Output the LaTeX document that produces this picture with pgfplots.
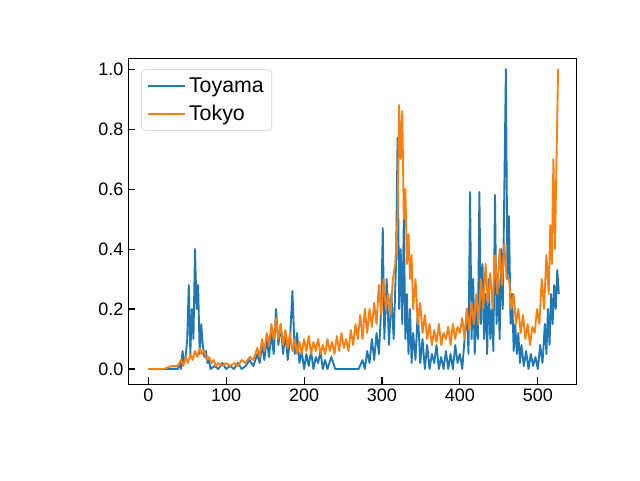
\documentclass[border=0pt]{standalone}
\usepackage{pgfplots}
\pgfplotsset{compat=1.18}
\usepackage{fontspec}
\setmainfont{Liberation Sans}
\definecolor{mblue}{HTML}{1F77B4}
\definecolor{morange}{HTML}{FF7F0E}
\begin{document}
\begin{tikzpicture}
\path (0,0) rectangle (480pt,360pt);
\begin{axis}[at={(96pt,72pt)},anchor=south west,scale only axis,width=336pt,height=244.5pt,
xmin=-26,xmax=549,ymin=-0.05,ymax=1.037,
xtick={0,100,200,300,400,500},ytick={0,0.2,0.4,0.6,0.8,1.0},
yticklabel style={/pgf/number format/.cd,fixed,fixed zerofill,precision=1},
/pgf/number format/assume math mode=true,
tick style={black,thick},major tick length=5pt,tick align=inside,
xtick pos=bottom,ytick pos=left,
ticklabel style={font=\fontsize{13.5}{16}\selectfont},
legend style={at={(0.03,0.965)},anchor=north west,font=\fontsize{16}{19}\selectfont,draw=black!20,rounded corners=3pt,inner sep=4pt,row sep=4pt,
  legend image code/.code={\draw[#1,line width=1.5pt] (0pt,0pt) -- (28pt,0pt);}},
legend cell align=left,
every axis plot/.append style={line width=1.4pt,line join=round}]
\addplot[mblue] coordinates {
(0,0)(10,0)(20,0)(30,0)(38,0)(40,0.02)(42,0)(44,0.06)(46,0.02)(48,0.04)(50,0.1)(52,0.28)(54,0.05)(56,0.2)(58,0.1)(60,0.4)(62,0.2)(64,0.28)(66,0.05)(68,0.15)(70,0.08)(72,0.04)(74,0.06)(76,0.02)(78,0.03)(80,0)(85,0.01)(90,0)(95,0.02)(100,0)(105,0.01)(110,0)(115,0.02)(120,0)(125,0.01)(130,0.03)(135,0.01)(140,0.05)(143,0.02)(146,0.08)(149,0.03)(152,0.1)(155,0.04)(158,0.12)(161,0.05)(164,0.2)(167,0.08)(170,0.15)(173,0.05)(176,0.12)(179,0.03)(182,0.1)(185,0.26)(188,0.05)(191,0.12)(194,0.02)(197,0.06)(200,0)(203,0.05)(206,0.01)(209,0.06)(212,0)(215,0.04)(218,0.02)(221,0.06)(224,0)(227,0.03)(230,0)(235,0.04)(240,0)(250,0)(260,0)(270,0)(275,0.03)(278,0)(281,0.06)(284,0.02)(287,0.1)(290,0.03)(293,0.12)(296,0.05)(299,0.2)(301,0.47)(303,0.1)(306,0.3)(309,0.08)(312,0.25)(315,0.1)(318,0.35)(320,0.77)(322,0.2)(324,0.4)(326,0.15)(328,0.5)(330,0.1)(332,0.25)(334,0.05)(336,0.2)(338,0.02)(340,0.12)(343,0.03)(346,0.2)(349,0.02)(352,0.1)(355,0)(358,0.08)(361,0)(364,0.05)(367,0.02)(370,0.08)(373,0)(376,0.04)(379,0)(382,0.06)(385,0)(388,0.05)(391,0)(394,0.08)(397,0.02)(400,0.05)(403,0)(406,0.1)(409,0.2)(411,0.05)(413,0.59)(415,0.1)(417,0.3)(419,0.05)(421,0.2)(423,0.1)(425,0.59)(427,0.15)(429,0.35)(431,0.1)(433,0.25)(435,0.05)(437,0.3)(439,0.1)(441,0.2)(443,0.06)(445,0.58)(447,0.15)(449,0.3)(451,0.1)(453,0.4)(455,0.2)(457,0.6)(459,1.0)(461,0.3)(463,0.51)(465,0.15)(467,0.25)(469,0.06)(471,0.15)(473,0.05)(475,0.12)(477,0.02)(479,0.08)(482,0.01)(485,0.06)(488,0)(491,0.05)(494,0.01)(497,0.04)(500,0)(503,0.08)(506,0.02)(509,0.15)(511,0.05)(513,0.2)(515,0.08)(517,0.25)(519,0.15)(521,0.28)(523,0.2)(525,0.33)(527,0.25)
};
\addlegendentry{Toyama}
\addplot[morange] coordinates {
(0,0)(10,0)(20,0)(30,0.01)(38,0.01)(42,0.03)(45,0.01)(48,0.04)(51,0.02)(54,0.05)(57,0.03)(60,0.06)(63,0.04)(66,0.07)(69,0.05)(72,0.06)(75,0.03)(78,0.04)(81,0.02)(84,0.03)(87,0.01)(90,0.02)(95,0.01)(100,0.02)(105,0.01)(110,0.02)(115,0.01)(120,0.03)(125,0.02)(130,0.04)(135,0.03)(140,0.07)(143,0.04)(146,0.1)(149,0.06)(152,0.12)(155,0.08)(158,0.15)(161,0.1)(164,0.17)(167,0.1)(170,0.15)(173,0.08)(176,0.13)(179,0.07)(182,0.12)(185,0.06)(188,0.1)(191,0.05)(194,0.09)(197,0.05)(200,0.1)(203,0.06)(206,0.11)(209,0.05)(212,0.09)(215,0.06)(218,0.1)(221,0.05)(224,0.08)(227,0.05)(230,0.1)(233,0.06)(236,0.09)(239,0.05)(242,0.11)(245,0.06)(248,0.12)(251,0.07)(254,0.1)(257,0.06)(260,0.13)(263,0.08)(266,0.15)(269,0.1)(272,0.18)(275,0.1)(278,0.2)(281,0.12)(284,0.2)(287,0.14)(290,0.22)(293,0.15)(296,0.28)(299,0.18)(302,0.3)(305,0.2)(308,0.25)(311,0.18)(314,0.3)(317,0.35)(320,0.5)(322,0.88)(324,0.7)(326,0.86)(328,0.5)(330,0.6)(332,0.35)(334,0.45)(336,0.3)(338,0.38)(340,0.2)(343,0.3)(346,0.15)(349,0.22)(352,0.12)(355,0.18)(358,0.1)(361,0.15)(364,0.08)(367,0.13)(370,0.09)(373,0.15)(376,0.08)(379,0.12)(382,0.1)(385,0.14)(388,0.08)(391,0.15)(394,0.1)(397,0.14)(400,0.12)(403,0.17)(406,0.1)(409,0.2)(412,0.13)(415,0.22)(418,0.15)(421,0.25)(424,0.15)(427,0.3)(430,0.2)(433,0.35)(436,0.22)(439,0.32)(442,0.2)(445,0.38)(448,0.25)(451,0.4)(454,0.28)(457,0.42)(460,0.3)(463,0.3)(466,0.2)(469,0.25)(472,0.15)(475,0.2)(478,0.12)(481,0.18)(484,0.1)(487,0.15)(490,0.08)(493,0.14)(496,0.12)(499,0.2)(502,0.15)(505,0.3)(508,0.2)(511,0.38)(514,0.25)(516,0.48)(518,0.35)(520,0.7)(522,0.4)(524,0.7)(526,1.0)
};
\addlegendentry{Tokyo}
\end{axis}
\end{tikzpicture}
\end{document}
